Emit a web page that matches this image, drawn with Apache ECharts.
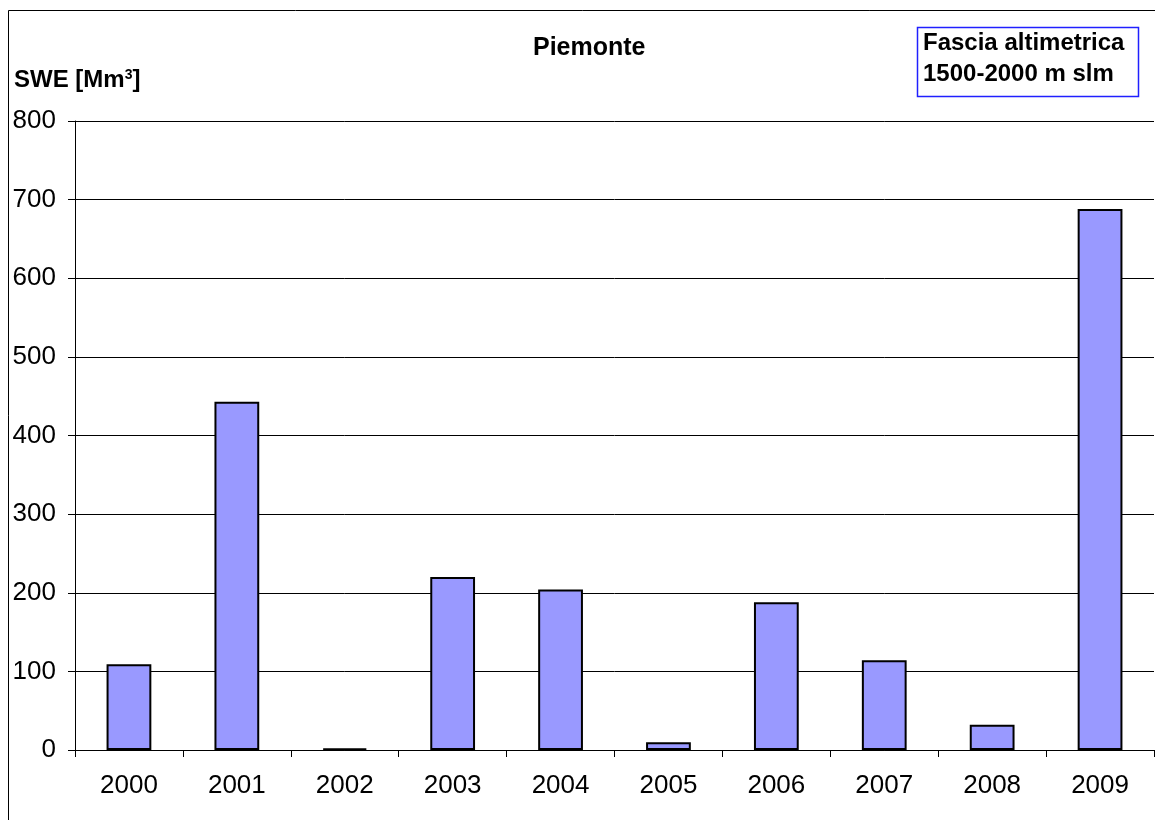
<!DOCTYPE html>
<html>
<head>
<meta charset="utf-8">
<script src="https://cdn.jsdelivr.net/npm/echarts@6/dist/echarts.min.js"></script>
<style>
  html, body { margin: 0; padding: 0; background: #fff; }
  #chart { width: 1155px; height: 820px; }
</style>
</head>
<body>
<div id="chart"></div>
<script>
// Snow water equivalent per year, 1500-2000 m band, Piemonte
const years = ['2000', '2001', '2002', '2003', '2004', '2005', '2006', '2007', '2008', '2009'];
const sweValues = [109, 443, 2, 220, 204, 10, 188, 114, 32, 688];
const yTicks = [0, 100, 200, 300, 400, 500, 600, 700, 800];

const font = '"Liberation Sans", Arial, sans-serif';
const chart = echarts.init(document.getElementById('chart'), null, { renderer: 'canvas' });

chart.setOption({
  backgroundColor: '#ffffff',
  animation: false,
  grid: { left: 75, top: 121, right: 1, bottom: 70, containLabel: false },
  xAxis: {
    type: 'category',
    data: years,
    boundaryGap: true,
    axisLine: { show: true, lineStyle: { color: '#000', width: 1 } },
    axisTick: { show: true, alignWithLabel: false, length: 7, lineStyle: { color: '#000' } },
    axisLabel: { color: '#000', fontFamily: font, fontSize: 26, margin: 23 },
    splitLine: { show: false }
  },
  yAxis: {
    type: 'value',
    min: yTicks[0],
    max: yTicks[yTicks.length - 1],
    interval: 100,
    axisLine: { show: true, lineStyle: { color: '#000', width: 1 } },
    axisTick: { show: true, length: 7, lineStyle: { color: '#000' } },
    axisLabel: { color: '#000', fontFamily: font, fontSize: 26, margin: 19 },
    splitLine: { show: true, lineStyle: { color: '#000', width: 1 } }
  },
  series: [{
    type: 'bar',
    data: sweValues,
    barWidth: '41.5%',
    itemStyle: { color: '#9999ff', borderColor: '#000', borderWidth: 2 }
  }],
  graphic: [
    {
      type: 'rect',
      shape: { x: 8.5, y: 10.5, width: 1200, height: 900 },
      style: { fill: 'none', stroke: '#000', lineWidth: 1 },
      silent: true, z: 100
    },
    {
      type: 'text',
      x: 533, y: 48,
      style: { text: 'Piemonte', fill: '#000', font: 'bold 25px ' + font, verticalAlign: 'middle' }
    },
    {
      type: 'text',
      x: 14, y: 80,
      style: {
        text: '{b|SWE [Mm}{s|3}{b|]}',
        verticalAlign: 'middle',
        rich: {
          b: { fill: '#000', font: 'bold 24px ' + font, height: 28 },
          s: { fill: '#000', font: 'bold 14px ' + font, height: 28, verticalAlign: 'top', padding: [0, 0, 10, 0] }
        }
      }
    },
    {
      type: 'rect',
      shape: { x: 917.5, y: 27.5, width: 221, height: 69 },
      style: { fill: '#fff', stroke: '#2020ff', lineWidth: 1.5 },
      z: 50
    },
    {
      type: 'text',
      x: 923, y: 43.5, z: 51,
      style: { text: 'Fascia altimetrica', fill: '#000', font: 'bold 24px ' + font, verticalAlign: 'middle' }
    },
    {
      type: 'text',
      x: 923, y: 74, z: 51,
      style: { text: '1500-2000 m slm', fill: '#000', font: 'bold 24px ' + font, verticalAlign: 'middle' }
    }
  ]
});
</script>
</body>
</html>
